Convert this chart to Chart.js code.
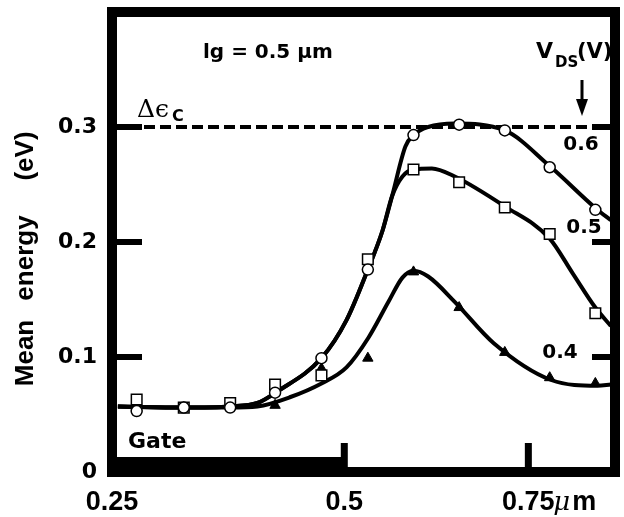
<!DOCTYPE html>
<html>
<head>
<meta charset="utf-8">
<script src="https://cdn.jsdelivr.net/npm/chart.js@4.4.0/dist/chart.umd.min.js"></script>
<style>
  html, body { margin: 0; padding: 0; background: #fff; }
  #wrap { width: 624px; height: 517px; }
</style>
</head>
<body>
<div id="wrap"><canvas id="energyChart"></canvas></div>
<script>
const markerX    = [0.218, 0.282, 0.345, 0.406, 0.469, 0.532, 0.594, 0.656, 0.718, 0.779, 0.841];
const circles06  = [0.053, 0.056, 0.056, 0.069, 0.099, 0.176, 0.293, 0.302, 0.297, 0.265, 0.228];
const squares05  = [0.063, 0.056, 0.060, 0.076, 0.084, 0.185, 0.263, 0.252, 0.230, 0.207, 0.138];
const triangles04 = [null, 0.056, null, 0.058, 0.090, 0.099, 0.174, 0.143, 0.104, 0.082, 0.077];

// fitted curves
const curve06X = [0.1925, 0.282, 0.345, 0.382, 0.409, 0.469, 0.503, 0.532, 0.552, 0.565, 0.583, 0.594, 0.614, 0.650, 0.718, 0.779, 0.842, 0.862];
const curve06Y = [0.057, 0.056, 0.057, 0.060, 0.070, 0.099, 0.132, 0.176, 0.210, 0.240, 0.283, 0.293, 0.300, 0.303, 0.297, 0.266, 0.229, 0.219];
const curve05X = [0.1925, 0.282, 0.345, 0.382, 0.409, 0.469, 0.503, 0.532, 0.552, 0.565, 0.579, 0.594, 0.619, 0.650, 0.718, 0.779, 0.810, 0.841, 0.862];
const curve05Y = [0.057, 0.056, 0.057, 0.060, 0.070, 0.099, 0.132, 0.176, 0.210, 0.240, 0.257, 0.263, 0.264, 0.257, 0.231, 0.203, 0.173, 0.143, 0.127];
const curve04X = [0.1925, 0.282, 0.345, 0.382, 0.426, 0.469, 0.503, 0.533, 0.560, 0.579, 0.594, 0.614, 0.650, 0.703, 0.781, 0.844, 0.862];
const curve04Y = [0.057, 0.056, 0.056, 0.057, 0.065, 0.077, 0.091, 0.117, 0.148, 0.169, 0.175, 0.170, 0.148, 0.112, 0.080, 0.075, 0.076];

const deltaEc = 0.3;
const vdsLabels = ['0.6', '0.5', '0.4'];

const xTickPos = [0.1845, 0.5, 0.75];
const xTickLabels = ['0.25', '0.5', '0.75'];
const yTickVals = [0, 0.1, 0.2, 0.3];
const yTickLabels = ['0', '0.1', '0.2', '0.3'];

const xMin = 0.1845, xMax = 0.8677;

const pts = (xs, ys) => xs.map((x, i) => ({x: x, y: ys[i]})).filter(p => p.y !== null);

const ink = '#000';

const extras = {
  id: 'extras',
  afterDatasetsDraw(chart) {
    const {ctx, chartArea: a, scales: {x, y}} = chart;
    ctx.save();
    ctx.fillStyle = ink;
    ctx.strokeStyle = ink;
    // heavy frame
    ctx.lineWidth = 10;
    ctx.strokeRect(a.left, a.top, a.right - a.left, a.bottom - a.top);
    // gate bar along the bottom
    const g = x.getPixelForValue(0.5);
    ctx.fillRect(a.left - 5, a.bottom - 15, g + 2 - (a.left - 5), 20);
    // inner ticks
    yTickVals.forEach(v => {
      if (v <= 0) return;
      const py = y.getPixelForValue(v);
      ctx.fillRect(a.left, py - 3, 30, 6);
      ctx.fillRect(a.right - 23, py - 3, 23, 6);
    });
    [0.5, 0.75].forEach(v => {
      const px = x.getPixelForValue(v);
      ctx.fillRect(px - 3.5, a.bottom - 29, 7, 29);
    });
    ctx.restore();
  },
  afterDraw(chart) {
    const {ctx, scales: {x}} = chart;
    ctx.save();
    ctx.fillStyle = ink;
    ctx.textBaseline = 'alphabetic';

    // y title, rotated
    ctx.save();
    ctx.translate(33, 0);
    ctx.rotate(-Math.PI / 2);
    ctx.textAlign = 'center';
    ctx.font = 'bold 26px "Liberation Sans"';
    ctx.fillText('Mean', -353, 0);
    ctx.fillText('energy', -258, 0);
    ctx.fillText('(eV)', -156, 0);
    ctx.restore();

    ctx.textAlign = 'left';
    ctx.font = 'bold 20px "DejaVu Sans"';
    ctx.fillText('lg = 0.5 μm', 203, 58);

    ctx.font = '25px "DejaVu Serif"';
    ctx.fillText('Δϵ', 137, 117);
    ctx.font = 'bold 16px "DejaVu Sans"';
    ctx.fillText('C', 172, 121);

    ctx.font = 'bold 22px "DejaVu Sans"';
    ctx.fillText('V', 536, 58);
    ctx.font = 'bold 21px "DejaVu Sans"';
    ctx.fillText('(V)', 577, 58);
    ctx.font = 'bold 15px "DejaVu Sans"';
    ctx.fillText('DS', 555, 67);

    // arrow
    ctx.fillRect(580.5, 80, 3, 22);
    ctx.beginPath();
    ctx.moveTo(576, 99);
    ctx.lineTo(588, 99);
    ctx.lineTo(582, 116);
    ctx.closePath();
    ctx.fill();

    ctx.textAlign = 'center';
    ctx.font = 'bold 20px "DejaVu Sans"';
    ctx.fillText(vdsLabels[0], 581, 150);
    ctx.fillText(vdsLabels[1], 584, 233);
    ctx.fillText(vdsLabels[2], 560, 358);

    ctx.textAlign = 'left';
    ctx.font = 'bold 22px "DejaVu Sans"';
    ctx.fillText('Gate', 128, 448);

    // unit after the 0.75 tick label
    const px75 = x.getPixelForValue(0.75);
    ctx.font = 'italic 26px "DejaVu Serif"';
    ctx.fillText('μ', px75 + 25, 510);
    ctx.font = 'bold 27px "Liberation Sans"';
    ctx.fillText('m', px75 + 44, 510);
    ctx.restore();
  }
};

const lineStyle = {
  type: 'line', borderColor: ink, borderWidth: 4, pointRadius: 0,
  cubicInterpolationMode: 'monotone', fill: false
};

new Chart('energyChart', {
  type: 'scatter',
  data: {
    datasets: [
      {
        label: '0.6 V', data: pts(markerX, circles06), pointStyle: 'circle',
        pointRadius: 5.5, borderWidth: 1.5, borderColor: ink, backgroundColor: '#fff'
      },
      {
        label: '0.5 V', data: pts(markerX, squares05), pointStyle: 'rect',
        pointRadius: 7.5, borderWidth: 1.5, borderColor: ink, backgroundColor: '#fff'
      },
      {
        label: '0.4 V', data: pts(markerX, triangles04), pointStyle: 'triangle',
        pointRadius: 6, borderWidth: 1, borderColor: ink, backgroundColor: ink
      },
      Object.assign({label: 'fit 0.6', data: pts(curve06X, curve06Y)}, lineStyle),
      Object.assign({label: 'fit 0.5', data: pts(curve05X, curve05Y)}, lineStyle),
      Object.assign({label: 'fit 0.4', data: pts(curve04X, curve04Y)}, lineStyle),
      {
        type: 'line', label: 'Δεc', data: [{x: xMin, y: deltaEc}, {x: xMax, y: deltaEc}],
        borderColor: ink, borderWidth: 4, borderDash: [11, 5], pointRadius: 0
      }
    ]
  },
  options: {
    responsive: true,
    maintainAspectRatio: false,
    animation: false,
    layout: { padding: { top: 12, right: 1, left: 0, bottom: 0 } },
    plugins: {
      legend: { display: false },
      tooltip: { enabled: false }
    },
    scales: {
      x: {
        type: 'linear', min: xMin, max: xMax,
        afterBuildTicks: s => { s.ticks = xTickPos.map(v => ({value: v})); },
        afterFit: s => { s.height = 45; s.paddingLeft = 0; s.paddingRight = 0; },
        grid: { display: false, drawTicks: false },
        border: { display: false },
        ticks: {
          autoSkip: false, maxRotation: 0, padding: 14, color: ink,
          font: { family: 'Liberation Sans', weight: 'bold', size: 27 },
          callback: (v, i) => xTickLabels[i]
        }
      },
      y: {
        min: 0, max: 0.4,
        afterBuildTicks: s => { s.ticks = yTickVals.map(v => ({value: v})); },
        afterFit: s => { s.width = 112; s.paddingTop = 0; s.paddingBottom = 0; },
        grid: { display: false, drawTicks: false },
        border: { display: false },
        ticks: {
          padding: 15, color: ink,
          font: { family: 'DejaVu Sans', weight: 'bold', size: 22 },
          callback: (v, i) => yTickLabels[i]
        }
      }
    }
  },
  plugins: [extras]
});
</script>
</body>
</html>
